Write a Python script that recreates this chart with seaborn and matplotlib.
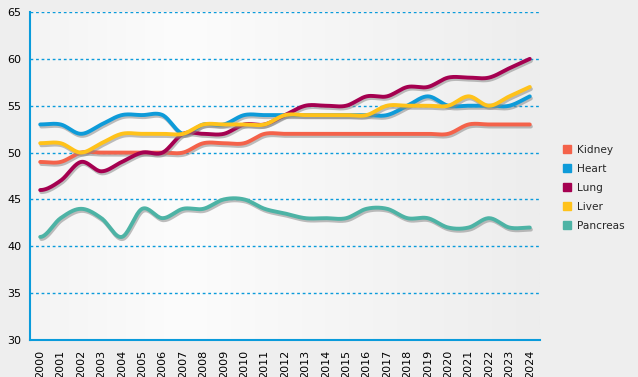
import numpy as np
import pandas as pd
import matplotlib
matplotlib.use("Agg")
import matplotlib.pyplot as plt
import matplotlib.patheffects as pe
from matplotlib.patches import Patch
from matplotlib.colors import LinearSegmentedColormap
import seaborn as sns

years = list(range(2000, 2025))
kidney = [49, 49, 50, 50, 50, 50, 50, 50, 51, 51, 51, 52, 52, 52, 52, 52, 52, 52, 52, 52, 52, 53, 53, 53, 53]
heart = [53, 53, 52, 53, 54, 54, 54, 52, 53, 53, 54, 54, 54, 54, 54, 54, 54, 54, 55, 56, 55, 55, 55, 55, 56]
lung = [46, 47, 49, 48, 49, 50, 50, 52, 52, 52, 53, 53, 54, 55, 55, 55, 56, 56, 57, 57, 58, 58, 58, 59, 60]
liver = [51, 51, 50, 51, 52, 52, 52, 52, 53, 53, 53, 53, 54, 54, 54, 54, 54, 55, 55, 55, 55, 56, 55, 56, 57]
pancreas = [41, 43, 44, 43, 41, 44, 43, 44, 44, 45, 45, 44, 43.5, 43, 43, 43, 44, 44, 43, 43, 42, 42, 43, 42, 42]

series_names = ["Kidney", "Heart", "Lung", "Liver", "Pancreas"]
series_vals = [kidney, heart, lung, liver, pancreas]
colors = ["#F4624A", "#0E9BD9", "#A50050", "#FFC21A", "#4DB3A5"]
y_ticks = [30, 35, 40, 45, 50, 55, 60, 65]


def catmull_rom(xs, ys, n=20):
    xs = np.asarray(xs, float)
    ys = np.asarray(ys, float)
    m = np.zeros_like(ys)
    m[1:-1] = (ys[2:] - ys[:-2]) / 2.0
    m[0] = 0.0
    m[-1] = ys[-1] - ys[-2]
    ox, oy = [], []
    for i in range(len(xs) - 1):
        t = np.linspace(0, 1, n, endpoint=False)
        h00 = 2 * t**3 - 3 * t**2 + 1
        h10 = t**3 - 2 * t**2 + t
        h01 = -2 * t**3 + 3 * t**2
        h11 = t**3 - t**2
        ox.extend(xs[i] + t * (xs[i + 1] - xs[i]))
        oy.extend(h00 * ys[i] + h10 * m[i] + h01 * ys[i + 1] + h11 * m[i + 1])
    ox.append(xs[-1])
    oy.append(ys[-1])
    return ox, oy


frames = []
for name, vals in zip(series_names, series_vals):
    sx, sy = catmull_rom(years, vals)
    frames.append(pd.DataFrame({"year": sx, "value": sy, "organ": name}))
df = pd.concat(frames, ignore_index=True)

sns.set_style("white")
plt.rcParams["font.family"] = ["DejaVu Sans"]

fig = plt.figure(figsize=(6.38, 3.77), dpi=100, facecolor="#EEEEEE")
ax = fig.add_axes([30 / 638, 1 - 340 / 377, 510 / 638, 328 / 377])
ax.set_facecolor("#F6F6F6")

# background gradient
cmap = LinearSegmentedColormap.from_list(
    "bg", [(0, "#F4F4F4"), (0.3, "#FCFCFC"), (1, "#EDEDED")])
grad = np.linspace(0, 1, 256).reshape(1, -1)
ax.imshow(grad, cmap=cmap, aspect="auto", extent=[0, 1, 0, 1],
          transform=ax.transAxes, zorder=0)

sns.lineplot(data=df, x="year", y="value", hue="organ", palette=dict(zip(series_names, colors)),
             hue_order=series_names, estimator=None, sort=False, linewidth=2.8,
             legend=False, ax=ax, zorder=3)

for ln in ax.lines:
    ln.set_solid_capstyle("round")
    ln.set_path_effects([pe.SimpleLineShadow(offset=(0.8, -1.5), shadow_color="#8A8A8A", alpha=0.55),
                         pe.Normal()])

ax.set_xlim(1999.5, 2024.5)
ax.set_ylim(30, 65)
ax.set_xticks(years)
ax.set_xticklabels([str(y) for y in years], rotation=90)
ax.set_yticks(y_ticks)
ax.set_xlabel("")
ax.set_ylabel("")

blue = "#0A9BDB"
for y in y_ticks[1:]:
    ax.axhline(y, color=blue, lw=1, ls=(0, (2, 2)), zorder=1)

for s in ["top", "right"]:
    ax.spines[s].set_visible(False)
for s in ["left", "bottom"]:
    ax.spines[s].set_color(blue)
    ax.spines[s].set_linewidth(1.5)
ax.tick_params(axis="both", colors=blue, labelcolor="black", labelsize=8,
               direction="out", length=4, width=1.2)
ax.tick_params(axis="x", pad=3)
ax.tick_params(axis="y", pad=2)

handles = [Patch(facecolor=c, edgecolor=c, label=n) for n, c in zip(series_names, colors)]
leg = fig.legend(handles=handles, loc="center left", bbox_to_anchor=(553 / 638, 1 - 188 / 377),
                 frameon=False, fontsize=7.6, handlelength=0.8, handleheight=0.8,
                 handletextpad=0.55, labelspacing=0.85)

fig.savefig("out.png", dpi=100, facecolor=fig.get_facecolor())
